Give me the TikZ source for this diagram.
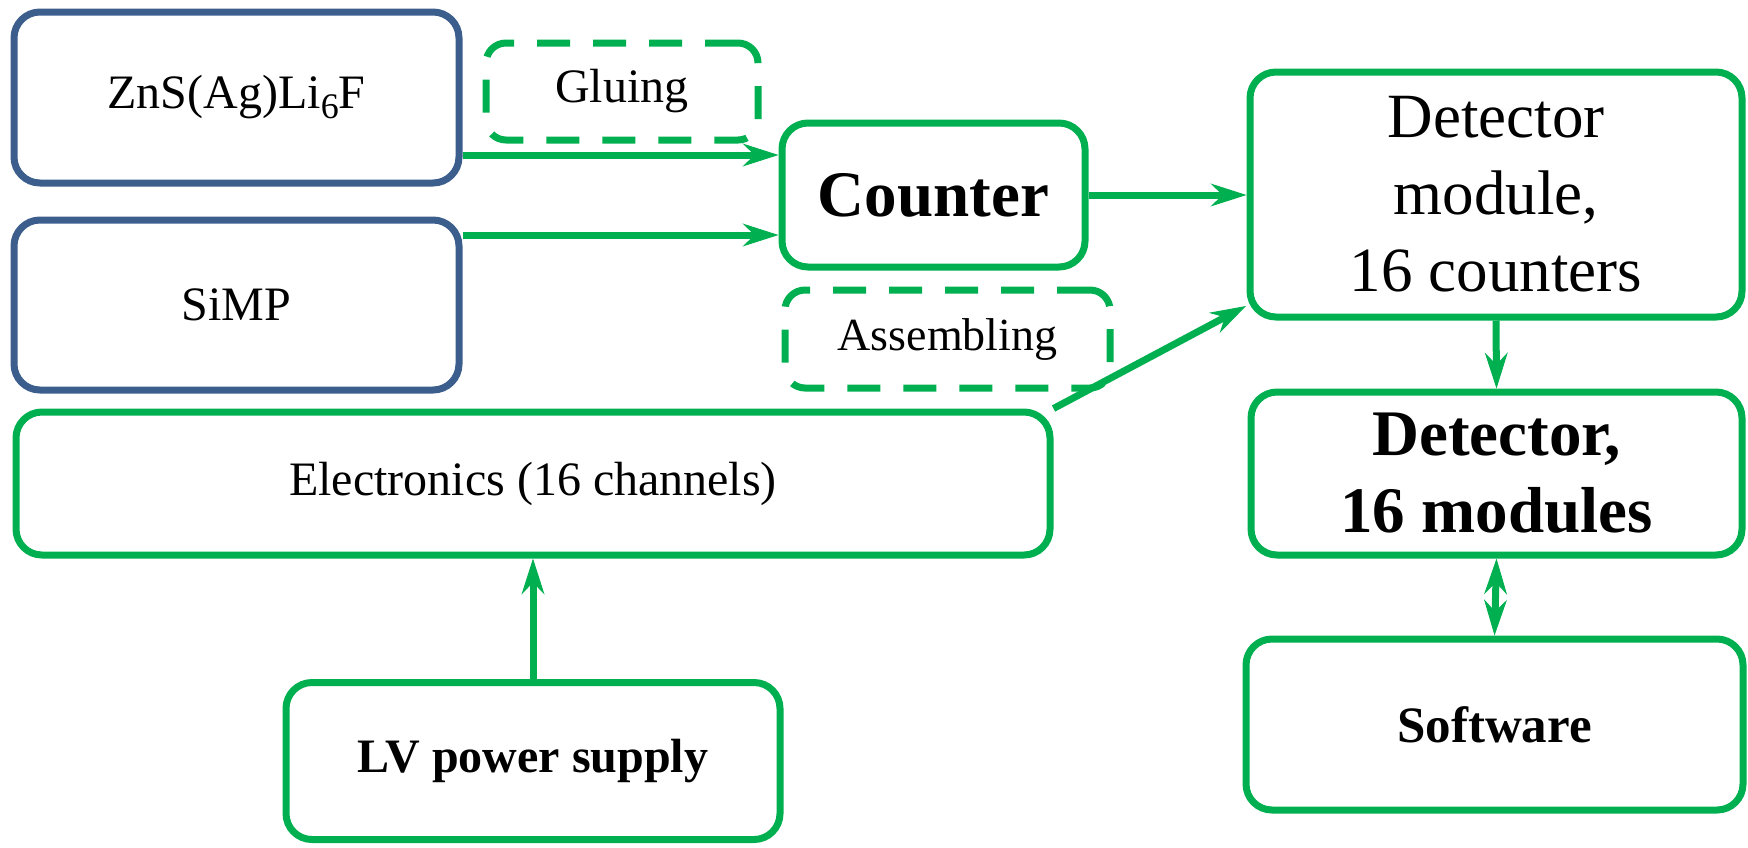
\documentclass[tikz,border=0pt]{standalone}
\usepackage{fontspec}
\setmainfont{Liberation Serif}
\usetikzlibrary{arrows.meta}
\definecolor{gr}{HTML}{00B050}
\definecolor{bl}{HTML}{3B5E8C}
\begin{document}
\begin{tikzpicture}[x=0.5pt,y=-0.5pt,
 box/.style={draw=gr, line width=3.5pt, rounded corners=13pt, rectangle, align=center, inner sep=0pt, fill=white},
 bbox/.style={box, draw=bl},
 dbox/.style={box, dash pattern=on 16.5pt off 11.5pt, rounded corners=10pt},
 arr/.style={draw=gr, line width=3.5pt, -{Stealth[length=18pt,width=11.5pt,inset=6pt,line width=0.5pt]}},
 darr/.style={draw=gr, line width=3.5pt, {Stealth[length=18pt,width=11.5pt,inset=6pt,line width=0.5pt]}-{Stealth[length=18pt,width=11.5pt,inset=6pt,line width=0.5pt]}},
 fn/.style={font=\fontsize{24}{29}\selectfont},
 fa/.style={font=\fontsize{23}{28}\selectfont},
 fm/.style={font=\fontsize{31.5}{38.5}\selectfont},
 fb/.style={font=\fontsize{32.5}{38.5}\selectfont\bfseries},
 fs/.style={font=\fontsize{24}{29}\selectfont\bfseries},
 fsw/.style={font=\fontsize{25.5}{30}\selectfont\bfseries}
]
\useasboundingbox (0,0) rectangle (1748,847);
\node[bbox, fn, minimum width=222.5pt, minimum height=85.5pt] (zns) at (236.5,97.5) {ZnS(Ag)Li\raisebox{-5pt}{\fontsize{18}{18}\selectfont 6}F};
\node[bbox, fn, minimum width=222.5pt, minimum height=85pt] (simp) at (236.5,305) {SiMP};
\node[dbox, fn, minimum width=136pt, minimum height=48.5pt] (glu) at (622,91.5) {Gluing};
\node[box, fb, minimum width=151.5pt, minimum height=72pt] (cnt) at (933.5,195) {Counter};
\node[dbox, fa, minimum width=162.5pt, minimum height=49pt] (asm) at (947.5,339) {Assembling};
\node[box, fn, minimum width=517pt, minimum height=71.5pt] (elec) at (533,483.5) {Electronics (16 channels)};
\node[box, fs, minimum width=247pt, minimum height=78.5pt] (lv) at (533,761) {LV power supply};
\node[box, fm, minimum width=246pt, minimum height=122.5pt] (mod) at (1496,194.5) {Detector\\module,\\16 counters};
\node[box, fb, minimum width=245.5pt, minimum height=81.5pt] (det) at (1496.5,473.5) {Detector,\\16 modules};
\node[box, fsw, minimum width=248.5pt, minimum height=85.5pt] (soft) at (1494.5,724.5) {Software};
\coordinate (mtip) at (1246,306);
\draw[arr] ([yshift=-28.75pt]zns.east) coordinate (a1) -- (a1 -| cnt.west);
\draw[arr] ([yshift=35pt]simp.east) coordinate (a2) -- (a2 -| cnt.west);
\draw[arr] (cnt.east) -- (cnt.east -| mod.west);
\draw[arr] (elec.north east) -- (mtip);
\draw[arr] (lv.north) -- (elec.south);
\draw[arr] (mod.south) -- (det.north);
\draw[darr] (det.south) -- (soft.north);
\end{tikzpicture}
\end{document}
